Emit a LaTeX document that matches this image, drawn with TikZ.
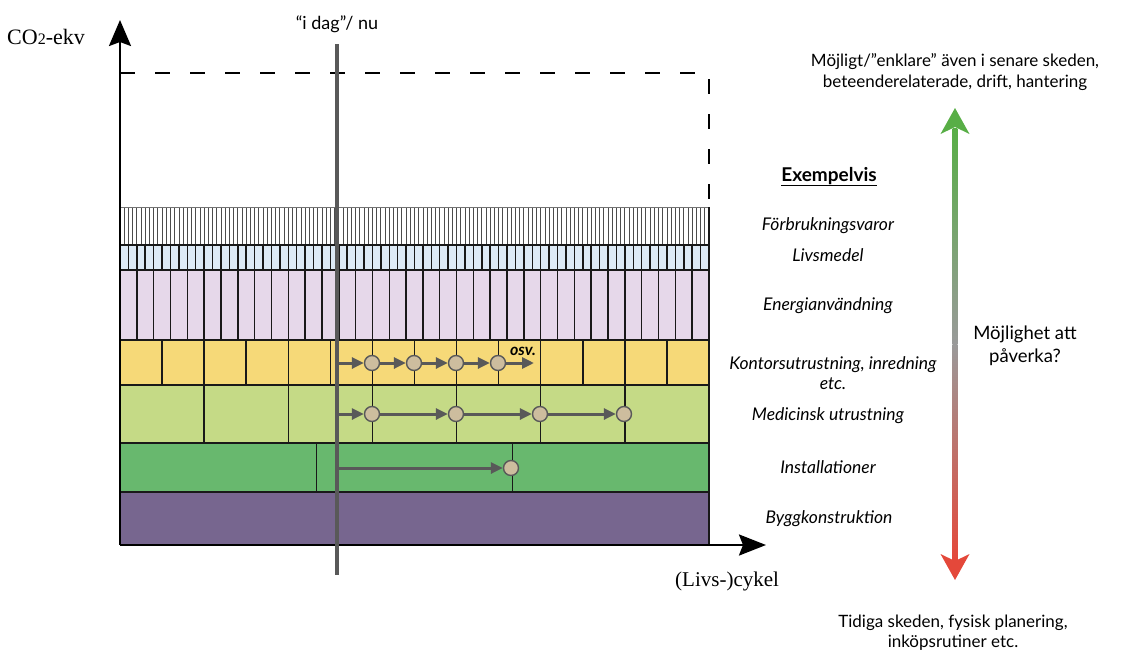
\documentclass[tikz,border=0pt]{standalone}
\usepackage{fontspec}
\setmainfont{Liberation Serif}
\newfontfamily\myr{Lato}
\usetikzlibrary{arrows.meta}
\definecolor{cpurple}{HTML}{77668F}
\definecolor{cgreen}{HTML}{68B86E}
\definecolor{clgreen}{HTML}{C5DA86}
\definecolor{cyellow}{HTML}{F6D978}
\definecolor{clav}{HTML}{E6D8EA}
\definecolor{cblue}{HTML}{DDEAF6}
\definecolor{cdark}{HTML}{595959}
\definecolor{ctan}{HTML}{CDBD9E}
\definecolor{agreen}{HTML}{58AE46}
\definecolor{agray}{HTML}{9A9A9A}
\definecolor{ared}{HTML}{E4483A}
\tikzset{
  cellline/.style={line width=1.5pt, black!90},
  hatchline/.style={line width=0.8pt, black!70},
  axis/.style={line width=2.6pt, black},
  flow/.style={line width=3pt, cdark, -{Triangle[length=12pt,width=11pt]}},
  dot/.style={circle, draw=cdark, line width=1.4pt, fill=ctan, minimum size=15pt, inner sep=0pt},
  lab/.style={font=\myr\itshape\fontsize{17.5}{20}\selectfont, anchor=base, align=center},
  rtext/.style={font=\myr\fontsize{17}{20.5}\selectfont, anchor=base, align=center},
}
\begin{document}
\begin{tikzpicture}[x=1pt,y=-1pt]
\useasboundingbox (0,0) rectangle (1146,670);
% layer fills
\fill[cpurple] (120,492) rectangle (709,545);
\fill[cgreen] (120,443) rectangle (709,492);
\fill[clgreen] (120,385) rectangle (709,443);
\fill[cyellow] (120,340) rectangle (709,385);
\fill[clav] (120,270) rectangle (709,340);
\fill[cblue] (120,245) rectangle (709,270);
\fill[white] (120,207) rectangle (709,245);
% subdivisions
\foreach \i in {1,...,139} \draw[hatchline] ({120+\i*4.207143},207) -- ({120+\i*4.207143},245);
\foreach \i in {1,...,69} \draw[cellline] ({120+\i*8.414286},245) -- ({120+\i*8.414286},270);
\foreach \i in {1,...,34} \draw[cellline] ({120+\i*16.828571},270) -- ({120+\i*16.828571},340);
\foreach \i in {1,...,13} \draw[cellline] ({120+\i*42.071429},340) -- ({120+\i*42.071429},385);
\foreach \i in {1,...,6} \draw[cellline] ({120+\i*84.142857},385) -- ({120+\i*84.142857},443);
\foreach \i in {1,2} \draw[cellline] ({120+\i*196.333333},443) -- ({120+\i*196.333333},492);
% horizontal boundaries
\draw[line width=0.9pt, black!55] (120,207) -- (709,207);
\foreach \yy in {245,270,340,385,443,492} \draw[cellline] (120,\yy) -- (709,\yy);
\draw[cellline] (709,207) -- (709,545);
% dashed frame
\draw[line width=1.5pt, dash pattern=on 15pt off 20pt] (120,73) -- (709,73) -- (709,207);
% axes
\coordinate (O) at (120,545);
\coordinate (ytip) at (120,20);
\coordinate (xtip) at (766,545);
\draw[axis, -{Stealth[length=26pt,width=22pt,inset=4pt]}] (O) -- (ytip);
\draw[axis, -{Stealth[length=27pt,width=21pt,inset=4pt]}] (O) -- (xtip);
% now line
\coordinate (nowtop) at (337,44);
\coordinate (nowbot) at (337,575);
\draw[line width=4.5pt, cdark] (nowtop) -- (nowbot);
% flows row 1
\coordinate (s1) at (339,363);
\coordinate (e1) at (534,363);
\node[dot] (a1) at (372,363) {};
\node[dot] (a2) at (414,363) {};
\node[dot] (a3) at (456,363) {};
\node[dot] (a4) at (498,363) {};
\draw[flow] (s1) -- (a1);
\draw[flow] (a1) -- (a2);
\draw[flow] (a2) -- (a3);
\draw[flow] (a3) -- (a4);
\draw[flow] (a4) -- (e1);
\node[font=\myr\bfseries\itshape\fontsize{16}{18}\selectfont, anchor=base] (osv) at (523,355) {osv.};
% flows row 2
\coordinate (s2) at (339,414);
\node[dot] (b1) at (372,414) {};
\node[dot] (b2) at (456,414) {};
\node[dot] (b3) at (540,414) {};
\node[dot] (b4) at (624,414) {};
\draw[flow] (s2) -- (b1);
\draw[flow] (b1) -- (b2);
\draw[flow] (b2) -- (b3);
\draw[flow] (b3) -- (b4);
% flows row 3
\coordinate (s3) at (339,468);
\node[dot] (c1) at (511,468) {};
\draw[flow] (s3) -- (c1);
% axis labels
\node[anchor=base west, font=\fontsize{22}{24}\selectfont, inner sep=0pt] (ylab) at (7,44) {CO{\fontsize{16}{16}\selectfont 2}-ekv};
\node[anchor=base west, font=\fontsize{21}{24}\selectfont, inner sep=0pt] (xlab) at (675,586) {(Livs-)cykel};
\node[anchor=base, font=\myr\fontsize{18}{20}\selectfont, inner sep=0pt] (nowlab) at (337,29) {“i dag”/ nu};
% right labels
\node[font=\myr\bfseries\fontsize{19}{20}\selectfont, anchor=base] (ex) at (829,181) {\underline{Exempelvis}};
\node[lab] (l1) at (828,230) {Förbrukningsvaror};
\node[lab] (l2) at (828,261) {Livsmedel};
\node[lab] (l3) at (828,310) {Energianvändning};
\node[lab, anchor=north] (l4) at (833,353) {Kontorsutrustning, inredning\\etc.};
\node[lab] (l5) at (828,420) {Medicinsk utrustning};
\node[lab] (l6) at (828,473) {Installationer};
\node[lab] (l7) at (829,523) {Byggkonstruktion};
% gradient arrow
\shade[top color=agreen, bottom color=agray] (952.7,128) rectangle (957.3,344);
\shade[top color=agray, bottom color=ared] (952.7,344) rectangle (957.3,560);
\coordinate (gtop) at (955,108);
\coordinate (gbot) at (955,580);
\fill[agreen] (gtop) -- (969.5,134) -- (955,127) -- (940.5,134) -- cycle;
\fill[ared] (gbot) -- (969.5,554) -- (955,561) -- (940.5,554) -- cycle;
% right texts
\node[rtext, anchor=north] (top) at (955,50) {Möjligt/”enklare” även i senare skeden,\\beteenderelaterade, drift, hantering};
\node[rtext, anchor=north] (bot) at (953,611) {Tidiga skeden, fysisk planering,\\inköpsrutiner etc.};
\node[font=\myr\fontsize{18.5}{23}\selectfont, anchor=north, align=center] (mid) at (1025,322) {Möjlighet att\\påverka?};
\end{tikzpicture}
\end{document}
